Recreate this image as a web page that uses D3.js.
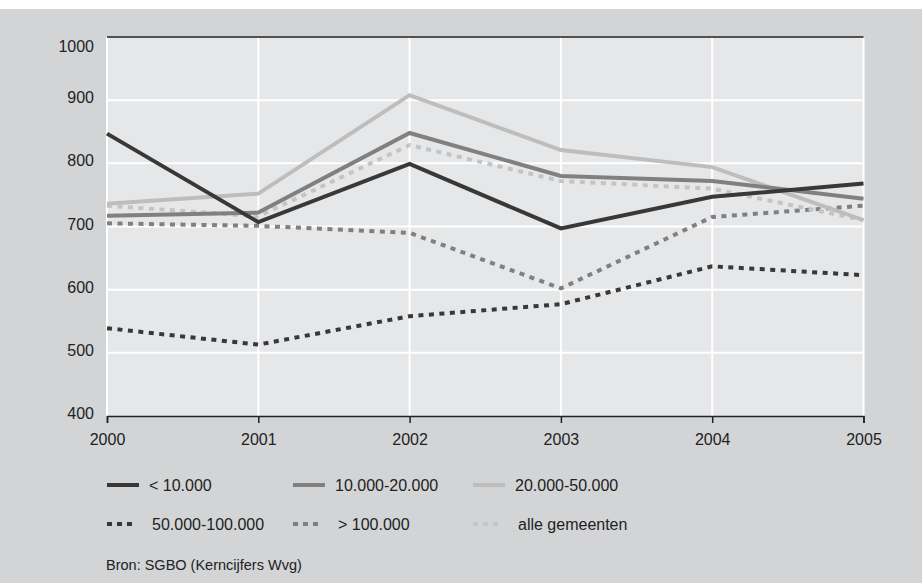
<!DOCTYPE html>
<html>
<head>
<meta charset="utf-8">
<script src="https://cdn.jsdelivr.net/npm/d3@7"></script>
<style>
  html, body { margin: 0; padding: 0; background: #ffffff; }
  svg { display: block; font-family: "Liberation Sans", Arial, sans-serif; }
</style>
</head>
<body>
<svg id="chart" width="922" height="583"></svg>
<script>
// Years on the x axis
const years = [2000, 2001, 2002, 2003, 2004, 2005];

// Series per gemeentegrootte
const seriesNames = ["< 10.000", "10.000-20.000", "20.000-50.000",
                     "50.000-100.000", "> 100.000", "alle gemeenten"];
const lt10k      = [847, 707, 799, 697, 747, 768];
const k10to20    = [717, 722, 848, 780, 772, 744];
const k20to50    = [736, 752, 908, 821, 794, 710];
const k50to100   = [539, 513, 558, 577, 637, 623];
const gt100k     = [705, 701, 690, 602, 715, 733];
const alleGem    = [733, 716, 829, 772, 760, 710];
const seriesValues = [lt10k, k10to20, k20to50, k50to100, gt100k, alleGem];

// Y axis ticks
const yTicks = [400, 500, 600, 700, 800, 900, 1000];
const source = "Bron: SGBO (Kerncijfers Wvg)";

// Styles per series
const colors  = ["#383838", "#808080", "#bdbdbd", "#383838", "#808080", "#c4c4c4"];
const dashed  = [false, false, false, true, true, true];

const svg = d3.select("#chart");

// Grey panel
svg.append("rect").attr("x", 0).attr("y", 9).attr("width", 922).attr("height", 574)
  .attr("fill", "#d3d4d6");

const x = d3.scaleLinear().domain([2000, 2005]).range([107, 863.5]);
const y = d3.scaleLinear().domain([400, 1000]).range([416, 37]);

// Plot background
svg.append("rect")
  .attr("x", x(2000)).attr("y", y(1000))
  .attr("width", x(2005) - x(2000)).attr("height", y(400) - y(1000))
  .attr("fill", "#e6e7e8");

// White grid
const grid = svg.append("g");
grid.selectAll("line.h").data(yTicks.filter(d => d > 400 && d < 1000)).join("line")
  .attr("x1", x(2000)).attr("x2", x(2005))
  .attr("y1", d => y(d)).attr("y2", d => y(d))
  .attr("stroke", "#ffffff").attr("stroke-width", 2);
grid.selectAll("line.v").data(years).join("line")
  .attr("x1", d => x(d)).attr("x2", d => x(d))
  .attr("y1", y(1000)).attr("y2", y(400))
  .attr("stroke", "#ffffff").attr("stroke-width", 2);

// Top border line
svg.append("line")
  .attr("x1", x(2000)).attr("x2", x(2005))
  .attr("y1", y(1000)).attr("y2", y(1000))
  .attr("stroke", "#222").attr("stroke-width", 1.5);

// Y axis (labels only)
const yAxis = svg.append("g").attr("transform", `translate(${x(2000)},0)`)
  .call(d3.axisLeft(y).tickValues(yTicks).tickSize(0).tickPadding(13).tickFormat(d3.format("d")));
yAxis.select(".domain").remove();
yAxis.selectAll("text")
  .attr("font-size", 16).attr("fill", "#222")
  .attr("font-family", "'Liberation Sans', Arial, sans-serif")
  .attr("dy", d => d === 1000 ? "14.5px" : "2.5px");

// X axis
const xAxis = svg.append("g").attr("transform", `translate(0,${y(400)})`)
  .call(d3.axisBottom(x).tickValues(years).tickSize(7).tickPadding(0).tickFormat(d3.format("d")));
xAxis.select(".domain").attr("stroke", "#222").attr("stroke-width", 1.5);
xAxis.selectAll(".tick line").attr("stroke", "#222").attr("stroke-width", 1.5);
xAxis.selectAll("text")
  .attr("font-size", 16).attr("fill", "#222")
  .attr("font-family", "'Liberation Sans', Arial, sans-serif")
  .attr("y", 29).attr("dy", 0);

// Series lines
const line = d3.line().x((d, i) => x(years[i])).y(d => y(d));
const drawOrder = [4, 3, 5, 2, 1, 0];
svg.append("g").selectAll("path").data(drawOrder).join("path")
  .attr("d", i => line(seriesValues[i]))
  .attr("fill", "none")
  .attr("stroke", i => colors[i])
  .attr("stroke-width", 4)
  .attr("stroke-dasharray", i => dashed[i] ? "5,5.5" : null);

// Legend
const legX = [107, 293, 473];
const legY = [485, 524];
const leg = svg.append("g").selectAll("g").data(seriesNames).join("g")
  .attr("transform", (d, i) => `translate(${legX[i % 3]},${legY[Math.floor(i / 3)]})`);
leg.append("line")
  .attr("x1", 0).attr("x2", (d, i) => dashed[i] ? 27 : 32)
  .attr("y1", 0).attr("y2", 0)
  .attr("stroke", (d, i) => colors[i])
  .attr("stroke-width", 4)
  .attr("stroke-dasharray", (d, i) => dashed[i] ? "5,5" : null);
leg.append("text")
  .attr("x", (d, i) => dashed[i] ? 45 : 42)
  .attr("y", 6)
  .attr("font-size", 16).attr("fill", "#222")
  .text(d => d);

// Source line
svg.append("text").attr("x", 106).attr("y", 570)
  .attr("font-size", 14.5).attr("fill", "#222")
  .text(source);
</script>
</body>
</html>
